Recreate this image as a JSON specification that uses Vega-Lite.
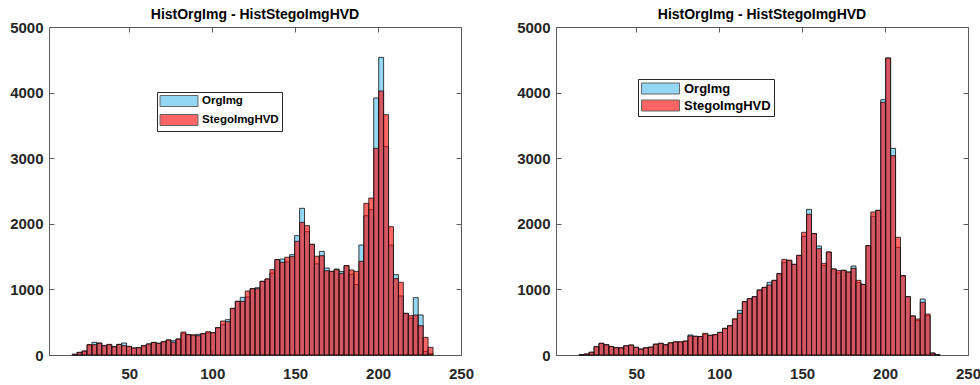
{
"$schema": "https://vega.github.io/schema/vega-lite/v6.json",
"padding": {"left": 9, "top": 7, "right": 0, "bottom": 5},
"bounds": "flush",
"spacing": 95,
"background": "white",
"datasets": {
"left": [
{"a":15.6,"b":18.58,"OrgImg":10,"StegoImgHVD":12},
{"a":18.58,"b":21.56,"OrgImg":40,"StegoImgHVD":40},
{"a":21.56,"b":24.54,"OrgImg":60,"StegoImgHVD":60},
{"a":24.54,"b":27.52,"OrgImg":150,"StegoImgHVD":160},
{"a":27.52,"b":30.5,"OrgImg":193,"StegoImgHVD":158},
{"a":30.5,"b":33.48,"OrgImg":183,"StegoImgHVD":178},
{"a":33.48,"b":36.46,"OrgImg":142,"StegoImgHVD":142},
{"a":36.46,"b":39.44,"OrgImg":162,"StegoImgHVD":157},
{"a":39.44,"b":42.42,"OrgImg":127,"StegoImgHVD":127},
{"a":42.42,"b":45.4,"OrgImg":163,"StegoImgHVD":160},
{"a":45.4,"b":48.38,"OrgImg":183,"StegoImgHVD":142},
{"a":48.38,"b":51.36,"OrgImg":132,"StegoImgHVD":130},
{"a":51.36,"b":54.34,"OrgImg":107,"StegoImgHVD":107},
{"a":54.34,"b":57.32,"OrgImg":112,"StegoImgHVD":112},
{"a":57.32,"b":60.3,"OrgImg":142,"StegoImgHVD":142},
{"a":60.3,"b":63.28,"OrgImg":168,"StegoImgHVD":168},
{"a":63.28,"b":66.26,"OrgImg":193,"StegoImgHVD":190},
{"a":66.26,"b":69.24,"OrgImg":178,"StegoImgHVD":178},
{"a":69.24,"b":72.22,"OrgImg":203,"StegoImgHVD":203},
{"a":72.22,"b":75.2,"OrgImg":229,"StegoImgHVD":229},
{"a":75.2,"b":78.18,"OrgImg":218,"StegoImgHVD":193},
{"a":78.18,"b":81.16,"OrgImg":244,"StegoImgHVD":244},
{"a":81.16,"b":84.14,"OrgImg":330,"StegoImgHVD":350},
{"a":84.14,"b":87.12,"OrgImg":310,"StegoImgHVD":310},
{"a":87.12,"b":90.1,"OrgImg":305,"StegoImgHVD":305},
{"a":90.1,"b":93.08,"OrgImg":315,"StegoImgHVD":295},
{"a":93.08,"b":96.06,"OrgImg":325,"StegoImgHVD":325},
{"a":96.06,"b":99.04,"OrgImg":335,"StegoImgHVD":356},
{"a":99.04,"b":102.02,"OrgImg":340,"StegoImgHVD":340},
{"a":102.02,"b":105,"OrgImg":417,"StegoImgHVD":417},
{"a":105,"b":107.98,"OrgImg":462,"StegoImgHVD":518},
{"a":107.98,"b":110.96,"OrgImg":539,"StegoImgHVD":508},
{"a":110.96,"b":113.94,"OrgImg":711,"StegoImgHVD":711},
{"a":113.94,"b":116.92,"OrgImg":818,"StegoImgHVD":818},
{"a":116.92,"b":119.9,"OrgImg":879,"StegoImgHVD":818},
{"a":119.9,"b":122.88,"OrgImg":884,"StegoImgHVD":976},
{"a":122.88,"b":125.86,"OrgImg":1011,"StegoImgHVD":1011},
{"a":125.86,"b":128.84,"OrgImg":1026,"StegoImgHVD":1011},
{"a":128.84,"b":131.82,"OrgImg":1123,"StegoImgHVD":1123},
{"a":131.82,"b":134.8,"OrgImg":1159,"StegoImgHVD":1159},
{"a":134.8,"b":137.78,"OrgImg":1250,"StegoImgHVD":1301},
{"a":137.78,"b":140.76,"OrgImg":1453,"StegoImgHVD":1453},
{"a":140.76,"b":143.74,"OrgImg":1463,"StegoImgHVD":1413},
{"a":143.74,"b":146.72,"OrgImg":1420,"StegoImgHVD":1490},
{"a":146.72,"b":149.7,"OrgImg":1529,"StegoImgHVD":1499},
{"a":149.7,"b":152.68,"OrgImg":1819,"StegoImgHVD":1733},
{"a":152.68,"b":155.66,"OrgImg":2236,"StegoImgHVD":2022},
{"a":155.66,"b":158.64,"OrgImg":1880,"StegoImgHVD":1972},
{"a":158.64,"b":161.62,"OrgImg":1687,"StegoImgHVD":1687},
{"a":161.62,"b":164.6,"OrgImg":1390,"StegoImgHVD":1505},
{"a":164.6,"b":167.58,"OrgImg":1580,"StegoImgHVD":1514},
{"a":167.58,"b":170.56,"OrgImg":1326,"StegoImgHVD":1285},
{"a":170.56,"b":173.54,"OrgImg":1275,"StegoImgHVD":1275},
{"a":173.54,"b":176.52,"OrgImg":1311,"StegoImgHVD":1300},
{"a":176.52,"b":179.5,"OrgImg":1275,"StegoImgHVD":1245},
{"a":179.5,"b":182.48,"OrgImg":1362,"StegoImgHVD":1362},
{"a":182.48,"b":185.46,"OrgImg":1230,"StegoImgHVD":1296},
{"a":185.46,"b":188.44,"OrgImg":1072,"StegoImgHVD":1275},
{"a":188.44,"b":191.42,"OrgImg":1677,"StegoImgHVD":1428},
{"a":191.42,"b":194.4,"OrgImg":2124,"StegoImgHVD":2312},
{"a":194.4,"b":197.38,"OrgImg":2215,"StegoImgHVD":2393},
{"a":197.38,"b":200.36,"OrgImg":3918,"StegoImgHVD":3150},
{"a":200.36,"b":203.34,"OrgImg":4537,"StegoImgHVD":4024},
{"a":203.34,"b":206.32,"OrgImg":3176,"StegoImgHVD":3664},
{"a":206.32,"b":209.3,"OrgImg":1677,"StegoImgHVD":1956},
{"a":209.3,"b":212.28,"OrgImg":1225,"StegoImgHVD":1164},
{"a":212.28,"b":215.26,"OrgImg":900,"StegoImgHVD":1108},
{"a":215.26,"b":218.24,"OrgImg":635,"StegoImgHVD":635},
{"a":218.24,"b":221.22,"OrgImg":560,"StegoImgHVD":600},
{"a":221.22,"b":224.2,"OrgImg":874,"StegoImgHVD":610},
{"a":224.2,"b":227.18,"OrgImg":610,"StegoImgHVD":447},
{"a":227.18,"b":230.16,"OrgImg":56,"StegoImgHVD":269},
{"a":230.16,"b":233.14,"OrgImg":20,"StegoImgHVD":117}
],
"right": [
{"a":15.6,"b":18.58,"OrgImg":5,"StegoImgHVD":5},
{"a":18.58,"b":21.56,"OrgImg":15,"StegoImgHVD":15},
{"a":21.56,"b":24.54,"OrgImg":42,"StegoImgHVD":42},
{"a":24.54,"b":27.52,"OrgImg":127,"StegoImgHVD":127},
{"a":27.52,"b":30.5,"OrgImg":178,"StegoImgHVD":178},
{"a":30.5,"b":33.48,"OrgImg":157,"StegoImgHVD":157},
{"a":33.48,"b":36.46,"OrgImg":130,"StegoImgHVD":130},
{"a":36.46,"b":39.44,"OrgImg":112,"StegoImgHVD":112},
{"a":39.44,"b":42.42,"OrgImg":110,"StegoImgHVD":110},
{"a":42.42,"b":45.4,"OrgImg":140,"StegoImgHVD":140},
{"a":45.4,"b":48.38,"OrgImg":152,"StegoImgHVD":152},
{"a":48.38,"b":51.36,"OrgImg":117,"StegoImgHVD":117},
{"a":51.36,"b":54.34,"OrgImg":91,"StegoImgHVD":91},
{"a":54.34,"b":57.32,"OrgImg":110,"StegoImgHVD":110},
{"a":57.32,"b":60.3,"OrgImg":120,"StegoImgHVD":120},
{"a":60.3,"b":63.28,"OrgImg":165,"StegoImgHVD":165},
{"a":63.28,"b":66.26,"OrgImg":178,"StegoImgHVD":178},
{"a":66.26,"b":69.24,"OrgImg":157,"StegoImgHVD":157},
{"a":69.24,"b":72.22,"OrgImg":185,"StegoImgHVD":185},
{"a":72.22,"b":75.2,"OrgImg":200,"StegoImgHVD":200},
{"a":75.2,"b":78.18,"OrgImg":200,"StegoImgHVD":200},
{"a":78.18,"b":81.16,"OrgImg":212,"StegoImgHVD":212},
{"a":81.16,"b":84.14,"OrgImg":305,"StegoImgHVD":290},
{"a":84.14,"b":87.12,"OrgImg":285,"StegoImgHVD":285},
{"a":87.12,"b":90.1,"OrgImg":282,"StegoImgHVD":282},
{"a":90.1,"b":93.08,"OrgImg":320,"StegoImgHVD":330},
{"a":93.08,"b":96.06,"OrgImg":300,"StegoImgHVD":300},
{"a":96.06,"b":99.04,"OrgImg":310,"StegoImgHVD":310},
{"a":99.04,"b":102.02,"OrgImg":345,"StegoImgHVD":345},
{"a":102.02,"b":105,"OrgImg":406,"StegoImgHVD":406},
{"a":105,"b":107.98,"OrgImg":447,"StegoImgHVD":447},
{"a":107.98,"b":110.96,"OrgImg":549,"StegoImgHVD":549},
{"a":110.96,"b":113.94,"OrgImg":681,"StegoImgHVD":635},
{"a":113.94,"b":116.92,"OrgImg":813,"StegoImgHVD":813},
{"a":116.92,"b":119.9,"OrgImg":859,"StegoImgHVD":859},
{"a":119.9,"b":122.88,"OrgImg":889,"StegoImgHVD":889},
{"a":122.88,"b":125.86,"OrgImg":991,"StegoImgHVD":991},
{"a":125.86,"b":128.84,"OrgImg":1031,"StegoImgHVD":1031},
{"a":128.84,"b":131.82,"OrgImg":1108,"StegoImgHVD":1067},
{"a":131.82,"b":134.8,"OrgImg":1138,"StegoImgHVD":1138},
{"a":134.8,"b":137.78,"OrgImg":1240,"StegoImgHVD":1240},
{"a":137.78,"b":140.76,"OrgImg":1413,"StegoImgHVD":1458},
{"a":140.76,"b":143.74,"OrgImg":1443,"StegoImgHVD":1443},
{"a":143.74,"b":146.72,"OrgImg":1382,"StegoImgHVD":1382},
{"a":146.72,"b":149.7,"OrgImg":1519,"StegoImgHVD":1519},
{"a":149.7,"b":152.68,"OrgImg":1809,"StegoImgHVD":1870},
{"a":152.68,"b":155.66,"OrgImg":2220,"StegoImgHVD":2144},
{"a":155.66,"b":158.64,"OrgImg":1850,"StegoImgHVD":1850},
{"a":158.64,"b":161.62,"OrgImg":1662,"StegoImgHVD":1621},
{"a":161.62,"b":164.6,"OrgImg":1362,"StegoImgHVD":1397},
{"a":164.6,"b":167.58,"OrgImg":1570,"StegoImgHVD":1570},
{"a":167.58,"b":170.56,"OrgImg":1311,"StegoImgHVD":1311},
{"a":170.56,"b":173.54,"OrgImg":1250,"StegoImgHVD":1286},
{"a":173.54,"b":176.52,"OrgImg":1291,"StegoImgHVD":1291},
{"a":176.52,"b":179.5,"OrgImg":1265,"StegoImgHVD":1265},
{"a":179.5,"b":182.48,"OrgImg":1357,"StegoImgHVD":1321},
{"a":182.48,"b":185.46,"OrgImg":1103,"StegoImgHVD":1138},
{"a":185.46,"b":188.44,"OrgImg":1077,"StegoImgHVD":1077},
{"a":188.44,"b":191.42,"OrgImg":1667,"StegoImgHVD":1667},
{"a":191.42,"b":194.4,"OrgImg":2114,"StegoImgHVD":2180},
{"a":194.4,"b":197.38,"OrgImg":2205,"StegoImgHVD":2205},
{"a":197.38,"b":200.36,"OrgImg":3892,"StegoImgHVD":3852},
{"a":200.36,"b":203.34,"OrgImg":4527,"StegoImgHVD":4527},
{"a":203.34,"b":206.32,"OrgImg":3150,"StegoImgHVD":3039},
{"a":206.32,"b":209.3,"OrgImg":1641,"StegoImgHVD":1794},
{"a":209.3,"b":212.28,"OrgImg":1209,"StegoImgHVD":1209},
{"a":212.28,"b":215.26,"OrgImg":889,"StegoImgHVD":889},
{"a":215.26,"b":218.24,"OrgImg":595,"StegoImgHVD":595},
{"a":218.24,"b":221.22,"OrgImg":523,"StegoImgHVD":549},
{"a":221.22,"b":224.2,"OrgImg":854,"StegoImgHVD":803},
{"a":224.2,"b":227.18,"OrgImg":600,"StegoImgHVD":625},
{"a":227.18,"b":230.16,"OrgImg":30,"StegoImgHVD":30},
{"a":230.16,"b":233.14,"OrgImg":5,"StegoImgHVD":5}
]
},
"hconcat": [
{
"width": 412, "height": 328,
"data": {"name": "left"},
"transform": [{"fold": ["OrgImg", "StegoImgHVD"], "as": ["s", "n"]}],
"title": {"text": "HistOrgImg - HistStegoImgHVD"},
"layer": [
{"mark": {"type": "bar", "fillOpacity": 0.6, "stroke": "#111111", "strokeWidth": 1, "strokeOpacity": 0.8},
"encoding": {
"x": {"field": "a", "type": "quantitative", "scale": {"domain": [1.6, 250], "nice": false, "zero": false},
"axis": {"orient": "bottom", "values": [50, 100, 150, 200, 250], "title": null, "format": "d"}},
"x2": {"field": "b"},
"y": {"field": "n", "type": "quantitative", "stack": null, "scale": {"domain": [0, 5000], "nice": false},
"axis": {"orient": "left", "values": [0, 1000, 2000, 3000, 4000, 5000], "title": null, "format": "d"}},
"y2": {"datum": 0},
"fill": {"field": "s", "type": "nominal", "scale": {"domain": ["OrgImg", "StegoImgHVD"], "range": ["#4dbeee", "#ff0000"]},
"legend": {"orient": "none", "legendX": 108, "legendY": 65}}
}},
{"mark": {"type": "bar", "opacity": 0},
"encoding": {
"x": {"field": "a", "type": "quantitative", "axis": {"orient": "top", "values": [50, 100, 150, 200, 250], "labels": false, "title": null}},
"x2": {"field": "b"},
"y": {"field": "n", "type": "quantitative", "stack": null, "axis": {"orient": "right", "values": [0, 1000, 2000, 3000, 4000, 5000], "labels": false, "title": null}},
"y2": {"datum": 0}
}}
],
"resolve": {"axis": {"x": "independent", "y": "independent"}}
},
{
"width": 412, "height": 328,
"data": {"name": "right"},
"transform": [{"fold": ["OrgImg", "StegoImgHVD"], "as": ["s", "n"]}],
"title": {"text": "HistOrgImg - HistStegoImgHVD"},
"layer": [
{"mark": {"type": "bar", "fillOpacity": 0.6, "stroke": "#111111", "strokeWidth": 1, "strokeOpacity": 0.8},
"encoding": {
"x": {"field": "a", "type": "quantitative", "scale": {"domain": [1.6, 250], "nice": false, "zero": false},
"axis": {"orient": "bottom", "values": [50, 100, 150, 200, 250], "title": null, "format": "d"}},
"x2": {"field": "b"},
"y": {"field": "n", "type": "quantitative", "stack": null, "scale": {"domain": [0, 5000], "nice": false},
"axis": {"orient": "left", "values": [0, 1000, 2000, 3000, 4000, 5000], "title": null, "format": "d"}},
"y2": {"datum": 0},
"fill": {"field": "s", "type": "nominal", "scale": {"domain": ["OrgImg", "StegoImgHVD"], "range": ["#4dbeee", "#ff0000"]},
"legend": {"orient": "none", "legendX": 82, "legendY": 52, "labelFontSize": 13, "rowPadding": 2}}
}},
{"mark": {"type": "bar", "opacity": 0},
"encoding": {
"x": {"field": "a", "type": "quantitative", "axis": {"orient": "top", "values": [50, 100, 150, 200, 250], "labels": false, "title": null}},
"x2": {"field": "b"},
"y": {"field": "n", "type": "quantitative", "stack": null, "axis": {"orient": "right", "values": [0, 1000, 2000, 3000, 4000, 5000], "labels": false, "title": null}},
"y2": {"datum": 0}
}}
],
"resolve": {"axis": {"x": "independent", "y": "independent"}}
}
],
"resolve": {"legend": {"fill": "independent"}, "scale": {"fill": "independent"}},
"config": {
"view": {"stroke": "#5a5a5a", "strokeWidth": 1},
"font": "Liberation Sans",
"title": {"font": "Liberation Sans", "fontSize": 14, "fontWeight": "bold", "color": "#000000", "offset": -2, "anchor": "middle", "frame": "group"},
"axis": {"grid": false, "domain": false, "ticks": true, "tickSize": -5, "tickColor": "#5a5a5a", "tickWidth": 1,
"labelFont": "Liberation Sans", "labelFontSize": 15, "labelFontWeight": "bold", "labelColor": "#262626",
"labelFlush": false, "labelOverlap": false},
"axisBottom": {"labelPadding": 16},
"axisLeft": {"labelPadding": 11},
"legend": {"title": null, "fillColor": "white", "strokeColor": "#262626", "padding": 3,
"symbolType": "M-3.45,-1H3.45V1H-3.45Z", "symbolSize": 121, "symbolOffset": 13, "symbolStrokeColor": "#000000", "symbolStrokeWidth": 1,
"symbolOpacity": 0.6, "labelFont": "Liberation Sans", "labelFontSize": 11.5, "labelFontWeight": "bold", "labelColor": "#000000",
"labelOffset": 17, "rowPadding": 3, "direction": "vertical"}
}
}
